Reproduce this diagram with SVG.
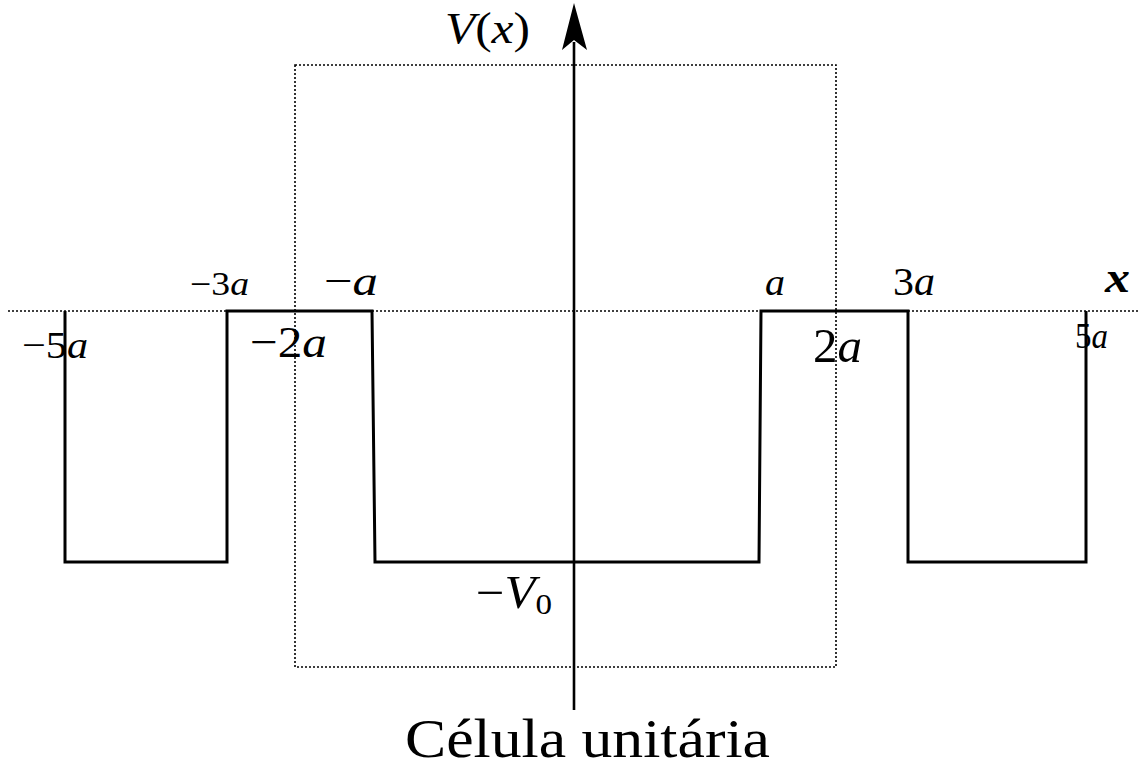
<svg xmlns="http://www.w3.org/2000/svg" width="1139" height="769" viewBox="0 0 1139 769">
<style>
.dot{fill:none;stroke:#000;stroke-width:1.6;stroke-dasharray:2 2}
.pot{fill:none;stroke:#000;stroke-width:3;stroke-linejoin:miter}
.t{font-family:"Liberation Serif","DejaVu Serif",serif;fill:#000}
.i{font-style:italic}
</style>
<rect width="1139" height="769" fill="#fff"/>
<g id="connectors">
<line id="x-axis" class="dot" x1="8" y1="311" x2="1139" y2="311"/>
<rect id="unit-cell" class="dot" x="295" y="65" width="541" height="602"/>
<path id="potential" class="pot" d="M65,311 V562 H227 V311 H372 L375,562 H759 L761,311 H908 V562 H1086 V311"/>
<line id="v-axis" x1="574" y1="710" x2="574" y2="42" stroke="#000" stroke-width="2.6"/>
<polygon id="arrowhead" points="574,3 587,50 574,40 562,50" fill="#000"/>
</g>
<g id="labels">
<text class="t" x="190" y="295" font-size="33" textLength="59" lengthAdjust="spacingAndGlyphs">−3<tspan class="i">a</tspan></text>
<text class="t" x="324" y="295" font-size="42" textLength="54" lengthAdjust="spacingAndGlyphs">−<tspan class="i">a</tspan></text>
<text class="t" x="22" y="358" font-size="38" textLength="66" lengthAdjust="spacingAndGlyphs">−5<tspan class="i">a</tspan></text>
<text class="t" x="250" y="357" font-size="44" textLength="77" lengthAdjust="spacingAndGlyphs">−2<tspan class="i">a</tspan></text>
<text class="t i" x="765" y="295" font-size="38" textLength="20" lengthAdjust="spacingAndGlyphs">a</text>
<text class="t" x="893" y="295" font-size="40" textLength="42" lengthAdjust="spacingAndGlyphs">3<tspan class="i">a</tspan></text>
<text class="t" x="813" y="362" font-size="48" textLength="49" lengthAdjust="spacingAndGlyphs">2<tspan class="i">a</tspan></text>
<text class="t" x="1075" y="348" font-size="36" textLength="33" lengthAdjust="spacingAndGlyphs">5<tspan class="i">a</tspan></text>
<text class="t i" x="1105" y="292" font-size="44" font-weight="bold" textLength="25" lengthAdjust="spacingAndGlyphs">x</text>
<text class="t" x="445" y="43" font-size="45" textLength="85" lengthAdjust="spacingAndGlyphs"><tspan class="i">V</tspan>(<tspan class="i">x</tspan>)</text>
<text class="t" x="476" y="608" font-size="46" textLength="76" lengthAdjust="spacingAndGlyphs">−<tspan class="i">V</tspan><tspan font-size="30" dy="6">0</tspan></text>
<text class="t" x="405" y="757" font-size="55" textLength="365" lengthAdjust="spacingAndGlyphs">Célula unitária</text>
</g>
</svg>
